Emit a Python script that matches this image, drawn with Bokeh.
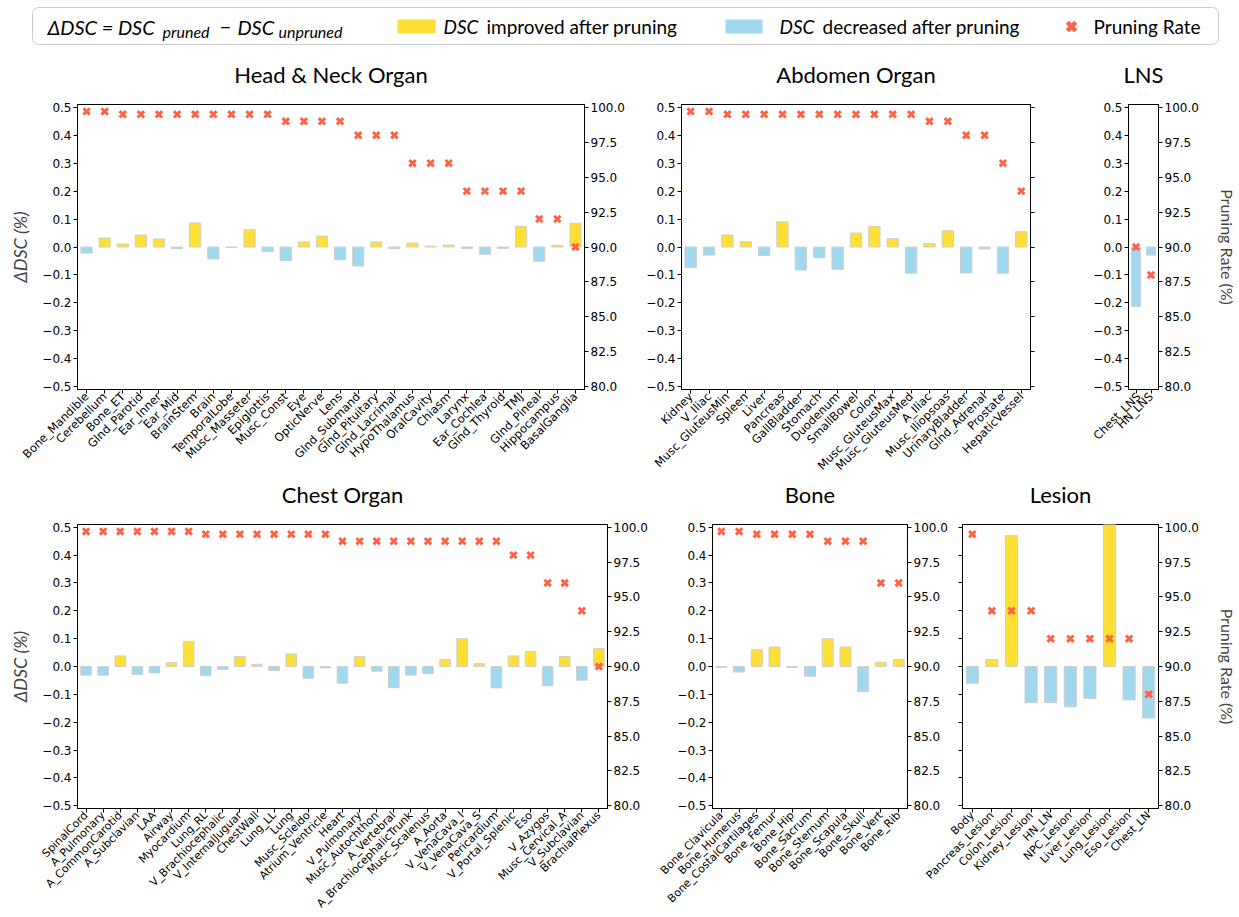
import math
from bokeh.plotting import figure
from bokeh.models import (Range1d, FactorRange, LinearAxis, FixedTicker,
                          CustomJSTickFormatter, ColumnDataSource)
from bokeh.layouts import column, row
from bokeh.embed import file_html
from bokeh.resources import INLINE
from bokeh.core.properties import value

# ---------------- data ----------------
hn_cats = ["Bone_Mandible", "Cerebellum", "Bone_ET", "Glnd_Parotid", "Ear_Inner", "Ear_Mid",
           "BrainStem", "Brain", "TemporalLobe", "Musc_Masseter", "Epiglottis", "Musc_Const",
           "Eye", "OpticNerve", "Lens", "Glnd_Submand", "Glnd_Pituitary", "Glnd_Lacrimal",
           "HypoThalamus", "OralCavity", "Chiasm", "Larynx", "Ear_Cochlea", "Glnd_Thyroid",
           "TMJ", "Glnd_Pineal", "Hippocampus", "BasalGanglia"]
hn_dsc = [-0.022, 0.032, 0.011, 0.043, 0.029, -0.006, 0.086, -0.043, -0.002, 0.062, -0.017,
          -0.049, 0.018, 0.039, -0.046, -0.068, 0.018, -0.006, 0.014, 0.003, 0.007, -0.005,
          -0.026, -0.005, 0.074, -0.051, 0.006, 0.085]
hn_rate = [99.7, 99.7, 99.5, 99.5, 99.5, 99.5, 99.5, 99.5, 99.5, 99.5, 99.5, 99.0, 99.0, 99.0,
           99.0, 98.0, 98.0, 98.0, 96.0, 96.0, 96.0, 94.0, 94.0, 94.0, 94.0, 92.0, 92.0, 90.0]

abd_cats = ["Kidney", "V_Iliac", "Musc_GluteusMin", "Spleen", "Liver", "Pancreas", "GallBladder",
            "Stomach", "Duodenum", "SmallBowel", "Colon", "Musc_GluteusMax", "Musc_GluteusMed",
            "A_Iliac", "Musc_Iliopsoas", "UrinaryBladder", "Glnd_Adrenal", "Prostate", "HepaticVessel"]
abd_dsc = [-0.073, -0.029, 0.043, 0.019, -0.030, 0.090, -0.082, -0.038, -0.080, 0.050, 0.074,
           0.030, -0.094, 0.012, 0.058, -0.093, -0.007, -0.094, 0.055]
abd_rate = [99.7, 99.7, 99.5, 99.5, 99.5, 99.5, 99.5, 99.5, 99.5, 99.5, 99.5, 99.5, 99.5,
            99.0, 99.0, 98.0, 98.0, 96.0, 94.0]

lns_cats = ["Chest_LNS", "HN_LNS"]
lns_dsc = [-0.213, -0.029]
lns_rate = [90.0, 88.0]

chest_cats = ["SpinalCord", "A_Pulmonary", "A_CommonCarotid", "A_Subclavian", "LAA", "Airway",
              "Myocardium", "Lung_RL", "V_Brachiocephalic", "V_InternalJuguar", "ChestWall",
              "Lung_LL", "Lung", "Musc_Scleido", "Atrium_Ventricle", "Heart", "V_Pulmonary",
              "Musc_Autochthon", "A_Vertebral", "A_BrachiocephalicTrunk", "Musc_Scalenus",
              "A_Aorta", "V_VenaCava_I", "V_VenaCava_S", "Pericardium", "V_Portal_Splenic",
              "Eso", "V_Azygos", "Musc_Cervical_A", "V_Subclavian", "BrachialPlexus"]
chest_dsc = [-0.031, -0.031, 0.038, -0.029, -0.023, 0.014, 0.090, -0.033, -0.010, 0.036, 0.008,
             -0.015, 0.045, -0.042, -0.005, -0.060, 0.036, -0.017, -0.076, -0.031, -0.025,
             0.025, 0.100, 0.010, -0.077, 0.038, 0.054, -0.069, 0.036, -0.049, 0.064]
chest_rate = [99.7, 99.7, 99.7, 99.7, 99.7, 99.7, 99.7, 99.5, 99.5, 99.5, 99.5, 99.5, 99.5,
              99.5, 99.5, 99.0, 99.0, 99.0, 99.0, 99.0, 99.0, 99.0, 99.0, 99.0, 99.0, 98.0,
              98.0, 96.0, 96.0, 94.0, 90.0]

bone_cats = ["Bone_Clavicula", "Bone_Humerus", "Bone_CostalCartilages", "Bone_Femur", "Bone_Hip",
             "Bone_Sacrum", "Bone_Sternum", "Bone_Scapula", "Bone_Skull", "Bone_Vert", "Bone_Rib"]
bone_dsc = [-0.003, -0.020, 0.060, 0.070, -0.003, -0.035, 0.100, 0.070, -0.090, 0.015, 0.025]
bone_rate = [99.7, 99.7, 99.5, 99.5, 99.5, 99.5, 99.0, 99.0, 99.0, 96.0, 96.0]

les_cats = ["Body", "Pancreas_Lesion", "Colon_Lesion", "Kidney_Lesion", "HN_LN", "NPC_Lesion",
            "Liver_Lesion", "Lung_Lesion", "Eso_Lesion", "Chest_LN"]
les_dsc = [-0.060, 0.025, 0.470, -0.130, -0.130, -0.145, -0.115, 0.600, -0.120, -0.185]
les_rate = [99.5, 94.0, 94.0, 94.0, 92.0, 92.0, 92.0, 92.0, 92.0, 88.0]

dsc_ticks = [-0.5, -0.4, -0.3, -0.2, -0.1, 0.0, 0.1, 0.2, 0.3, 0.4, 0.5]
rate_ticks = [80.0, 82.5, 85.0, 87.5, 90.0, 92.5, 95.0, 97.5, 100.0]

# ---------------- style ----------------
YELLOW = "#FFDF33"
BLUE = "#9FD8EF"
RED = "#FF6347"
TICK_FONT = "DejaVu Sans"
TXT_FONT = "Lato"

fmt1 = CustomJSTickFormatter(code="return tick.toFixed(1).replace('-', '\\u2212');")
blank = CustomJSTickFormatter(code="return '';")


def style_axis(ax, labels=True):
    ax.axis_line_color = "black"
    ax.major_tick_line_color = "black"
    ax.minor_tick_line_color = None
    ax.major_tick_out = 4
    ax.major_tick_in = 0
    ax.major_label_text_font = TICK_FONT
    ax.major_label_text_font_size = "12px"
    ax.major_label_text_color = "black"
    ax.major_label_standoff = 2 if labels else 0


def panel(title, cats, dsc, rate, width, height, bl, br, bt, bb, xfs,
          left_labels=True, right_labels=True, left_title=None, right_title=None):
    p = figure(width=width, height=height, x_range=FactorRange(factors=cats),
               y_range=Range1d(-0.51, 0.51), output_backend="svg", toolbar_location=None,
               min_border_left=bl, min_border_right=br, min_border_top=bt, min_border_bottom=bb,
               title=title)
    p.extra_y_ranges = {"rate": Range1d(79.8, 100.2)}
    p.title.align = "center"
    p.title.text_font = TXT_FONT
    p.title.text_font_size = "22px"
    p.title.text_font_style = "normal"
    p.title.text_color = "black"
    p.title.standoff = 34
    p.xgrid.visible = False
    p.ygrid.visible = False
    p.outline_line_color = "black"
    p.outline_line_width = 1
    p.background_fill_color = "white"
    p.border_fill_color = None

    yax = p.yaxis[0]
    yax.ticker = FixedTicker(ticks=dsc_ticks)
    yax.formatter = fmt1 if left_labels else blank
    style_axis(yax, left_labels)
    if left_title:
        yax.axis_label = left_title
        yax.axis_label_text_font = TXT_FONT
        yax.axis_label_text_font_size = "18px"
        yax.axis_label_text_font_style = "italic"
        yax.axis_label_standoff = 8

    rax = LinearAxis(y_range_name="rate", ticker=FixedTicker(ticks=rate_ticks),
                     formatter=fmt1 if right_labels else blank)
    style_axis(rax, right_labels)
    if right_title:
        rax.axis_label = right_title
        rax.axis_label_text_font = TXT_FONT
        rax.axis_label_text_font_size = "16px"
        rax.axis_label_text_font_style = "normal"
        rax.axis_label_standoff = 16
    p.add_layout(rax, "right")

    xax = p.xaxis[0]
    style_axis(xax)
    xax.major_label_orientation = math.pi / 4
    xax.major_label_text_font_size = xfs
    xax.major_label_standoff = 1

    colors = [YELLOW if v > 0 else BLUE for v in dsc]
    src = ColumnDataSource(dict(cat=cats, dsc=dsc, color=colors, rate=rate))
    p.vbar(x="cat", top="dsc", bottom=0, width=0.62, fill_color="color",
           line_color="#cfcfcf", line_width=1, source=src)
    p.scatter(x="cat", y="rate", y_range_name="rate", marker="x", size=9, line_width=3,
              color=RED, source=src)
    return p


TOP_H, BOT_H = 440, 456
hn = panel("Head & Neck Organ", hn_cats, hn_dsc, hn_rate, 640, TOP_H, 77, 56, 62, 92, "11.5px",
           left_title="ΔDSC (%)")
abd = panel("Abdomen Organ", abd_cats, abd_dsc, abd_rate, 450, TOP_H, 41, 60, 62, 92, "11.5px",
            right_labels=False)
lns = panel("LNS", lns_cats, lns_dsc, lns_rate, 149, TOP_H, 36, 76, 62, 92, "11.5px",
            right_title="Pruning Rate (%)")

chest = panel("Chest Organ", chest_cats, chest_dsc, chest_rate, 650, BOT_H, 77, 42, 62, 107,
              "11px", left_title="ΔDSC (%)")
bone = panel("Bone", bone_cats, bone_dsc, bone_rate, 300, BOT_H, 62, 42, 62, 107, "11px")
les = panel("Lesion", les_cats, les_dsc, les_rate, 319, BOT_H, 42, 76, 62, 107, "11px",
            left_labels=False, right_title="Pruning Rate (%)")
les.margin = (0, 0, 0, -30)

# ---------------- legend strip ----------------
leg = figure(width=1239, height=58, x_range=Range1d(0, 1239), y_range=Range1d(58, 0),
             output_backend="svg", toolbar_location=None, x_axis_location=None,
             y_axis_location=None, min_border=0)
leg.xgrid.visible = False
leg.ygrid.visible = False
leg.outline_line_color = None
leg.border_fill_color = None
leg.quad(left=[32], right=[1218], top=[7], bottom=[44], fill_color="white",
         line_color="#cccccc", line_width=1, border_radius=6)

leg_italic = ["ΔDSC = DSC", "pruned", "−", "DSC", "unpruned", "DSC", "DSC"]
leg_italic_x = [47, 162, 219, 237, 278, 443, 779]
leg_italic_y = [26, 31, 26, 26, 31, 26, 26]
leg_italic_sz = ["20px", "16px", "20px", "20px", "16px", "19px", "19px"]
for t, x, y, s in zip(leg_italic, leg_italic_x, leg_italic_y, leg_italic_sz):
    leg.text(x=[x], y=[y], text=[t], text_font=value(TXT_FONT), text_font_style="italic",
             text_font_size=s, text_baseline="middle", text_color="black")

leg_plain = ["improved after pruning", "decreased after pruning", "Pruning Rate"]
leg_plain_x = [486, 822, 1093]
for t, x in zip(leg_plain, leg_plain_x):
    leg.text(x=[x], y=[26], text=[t], text_font=value(TXT_FONT), text_font_size="19px",
             text_baseline="middle", text_color="black")

leg.quad(left=[397, 725], right=[435, 762], top=[19, 19], bottom=[33, 33],
         fill_color=[YELLOW, BLUE], line_color=None)
leg.scatter(x=[1071], y=[26], marker="x", size=12, line_width=4.5, color=RED)

top_row = row(hn, abd, lns)
top_row.margin = (-17, 0, 0, 0)
bot_row = row(chest, bone, les)
bot_row.margin = (-20, 0, 0, 0)

layout = column(leg, top_row, bot_row)
open("out.html", "w").write(file_html(layout, INLINE))
